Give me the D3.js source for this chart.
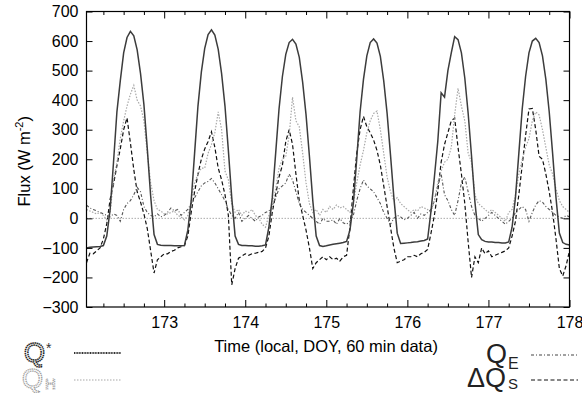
<!DOCTYPE html>
<html>
<head>
<meta charset="utf-8">
<script src="https://cdn.jsdelivr.net/npm/d3@7"></script>
<style>
  body { margin: 0; background: #fff; }
  svg { display: block; font-family: "Liberation Sans", Arial, sans-serif; }
</style>
</head>
<body>
<svg id="chart" width="582" height="393"></svg>
<script>
// hourly fluxes (W m-2), one row per day 172..177, hour 1..24
const qStar = [
  -100, -98, -97, -96, -95, -92, -60, 30, 190, 360, 465, 560, 612, 633, 618, 570, 490, 385, 235, 75, -55, -88, -91, -92,
  -92, -92, -93, -93, -93, -92, -40, 60, 220, 380, 495, 575, 622, 638, 620, 572, 490, 380, 230, 70, -60, -88, -92, -92,
  -93, -93, -94, -94, -93, -90, -30, 70, 220, 370, 480, 555, 595, 606, 590, 545, 460, 350, 210, 60, -60, -92, -95, -93,
  -90, -88, -86, -84, -82, -78, -40, 50, 200, 360, 470, 550, 595, 607, 593, 548, 465, 355, 215, 70, -50, -85, -84, -83,
  -82, -80, -79, -77, -75, -70, 25, 140, 260, 425, 410, 500, 560, 615, 605, 560, 475, 355, 210, 55, -55, -72, -78, -80,
  -80, -82, -82, -83, -83, -80, -30, 70, 220, 370, 480, 560, 600, 609, 595, 550, 470, 360, 220, 70, -50, -82, -88, -90
]
const qH = [
  30, 25, 20, 15, 20, 10, -5, 20, 130, 190, 270, 330, 380, 420, 450, 400, 380, 330, 220, 120, 60, 30, 25, 15,
  15, 20, 25, 10, 5, -5, 10, 60, 120, 150, 170, 170, 220, 250, 290, 360, 300, 160, 130, 50, 20, 30, 10, 25,
  20, 30, 10, 0, -20, -30, 10, 40, 100, 170, 200, 210, 280, 410, 330, 310, 220, 120, 50, 20, 30, 10, 30, 20,
  40, 30, 45, 35, 40, 30, 20, 50, 120, 180, 230, 290, 330, 355, 363, 300, 220, 140, 90, 60, 70, 50, 40, 30,
  20, 30, 25, 40, 35, 30, 20, 60, 120, 160, 190, 200, 240, 350, 440, 380, 330, 220, 190, 80, 50, 40, 30, 20,
  30, 20, 10, 0, -10, 20, 30, 80, 150, 200, 240, 270, 330, 360, 350, 300, 240, 180, 150, 100, 60, 40, 30, 20
]
const qE = [
  45, 35, 30, 25, 20, 15, 10, 5, 15, 10, -10, 30, 50, 60, 80, 105, 90, 40, 20, 10, 5, 15, 5, 10,
  20, 35, 25, 30, 10, 20, 30, 50, 70, 90, 110, 120, 125, 135, 120, 100, 80, 60, 30, 10, 0, 20, -10, 0,
  10, 0, -10, 5, 10, 20, 25, 40, 70, 100, 110, 120, 150, 130, 90, 50, 30, 20, 10, 0, -10, -20, 0, -10,
  -10, -5, -20, 0, -15, -20, -10, 10, 60, 100, 130, 110, 100, 90, 70, 50, 20, 0, -20, 0, 10, 5, -5, 0,
  10, 20, 0, 15, 10, 20, 30, 60, 110, 150, 80, 60, 30, 10, 60, 120, 140, 90, 40, 10, 0, -10, 0, 10,
  20, 10, 0, -10, -20, -10, 0, 20, 30, 40, 30, -10, 20, 45, 60, 55, 40, 30, 20, 10, 5, 0, 10, 5
]
const dQS = [
  -150, -118, -120, -110, -100, -70, -18, 65, 115, 178, 235, 300, 340, 255, 165, 90, 55, 15, -35, -110, -185, -140, -130, -120,
  -120, -112, -108, -100, -96, -92, -60, 20, 90, 150, 200, 235, 260, 293, 240, 170, 130, 80, 10, -225, -170, -135, -128, -120,
  -125, -120, -118, -115, -112, -100, -60, 20, 80, 140, 180, 260, 300, 250, 150, 60, 10, -40, -100, -170, -150, -140, -130, -140,
  -130, -140, -135, -145, -130, -125, -30, 100, 220, 300, 345, 310, 290, 265, 230, 180, 110, 40, -30, -100, -150, -145, -140, -130,
  -130, -125, -130, -120, -115, -105, -50, 10, 90, 190, 250, 290, 330, 339, 240, 150, 50, -80, -200, -130, -150, -100, -120, -110,
  -130, -125, -120, -115, -110, -100, -60, -10, 80, 180, 280, 370, 372, 300, 210, 200, 150, 90, 20, -70, -170, -195, -160, -110
]
const startDay = 172
const xTicks = [173, 174, 175, 176, 177, 178]
const yTicks = [-300, -200, -100, 0, 100, 200, 300, 400, 500, 600, 700]

const time = qStar.map((_, i) => startDay + (i + 1) / 24)

const series = [
  { key: 'qStar', values: qStar, stroke: '#3c3c3c', width: 1.5, dash: null },
  { key: 'qH', values: qH, stroke: '#a8a8a8', width: 1.2, dash: '1.5,1.5' },
  { key: 'qE', values: qE, stroke: '#555', width: 1.1, dash: '3,2,1,2' },
  { key: 'dQS', values: dQS, stroke: '#111', width: 1.2, dash: '4,2.5' }
]

const svg = d3.select('#chart')
const pl = 86.5, pr = 569.5, pt = 11.5, pb = 307

const x = d3.scaleLinear().domain([time[0], 178]).range([pl, pr])
const y = d3.scaleLinear().domain([-300, 700]).range([pb, pt])

// zero line
svg.append('line')
  .attr('x1', pl).attr('x2', pr)
  .attr('y1', y(0)).attr('y2', y(0))
  .attr('stroke', '#aaa').attr('stroke-width', 1).attr('stroke-dasharray', '1.5,1.5')

const line = d3.line().x((d, i) => x(time[i])).y(d => y(d))

svg.append('g')
  .selectAll('path')
  .data(series.slice().reverse())
  .join('path')
  .attr('d', d => line(d.values))
  .attr('fill', 'none')
  .attr('stroke', d => d.stroke)
  .attr('stroke-width', d => d.width)
  .attr('stroke-dasharray', d => d.dash)

// axes with inward ticks
const minor = d3.range(172.25, 178, 0.25).filter(v => v > time[0] && Math.abs(v - Math.round(v)) > 0.01)

const styleAxis = g => {
  g.select('.domain').remove()
  g.selectAll('line').attr('stroke', '#000')
  g.selectAll('text').attr('font-size', 16).attr('fill', '#000')
}

svg.append('g')
  .attr('transform', `translate(0,${pb})`)
  .call(d3.axisBottom(x).tickValues(xTicks).tickFormat(d3.format('d')).tickSize(-7).tickPadding(10))
  .call(styleAxis)

svg.append('g')
  .attr('transform', `translate(0,${pb})`)
  .call(d3.axisBottom(x).tickValues(minor).tickFormat('').tickSize(-3.5))
  .call(styleAxis)

svg.append('g')
  .attr('transform', `translate(0,${pt})`)
  .call(d3.axisTop(x).tickValues(xTicks).tickFormat('').tickSize(-7))
  .call(styleAxis)

svg.append('g')
  .attr('transform', `translate(0,${pt})`)
  .call(d3.axisTop(x).tickValues(minor).tickFormat('').tickSize(-3.5))
  .call(styleAxis)

svg.append('g')
  .attr('transform', `translate(${pl},0)`)
  .call(d3.axisLeft(y).tickValues(yTicks).tickSize(-6).tickPadding(8))
  .call(styleAxis)

svg.append('g')
  .attr('transform', `translate(${pr},0)`)
  .call(d3.axisRight(y).tickValues(yTicks).tickFormat('').tickSize(-6))
  .call(styleAxis)

svg.append('rect')
  .attr('x', pl).attr('y', pt)
  .attr('width', pr - pl).attr('height', pb - pt)
  .attr('fill', 'none').attr('stroke', '#000').attr('stroke-width', 1.2)

// axis titles
const yt = svg.append('text')
  .attr('transform', `translate(30,${(pt + pb) / 2 + 2}) rotate(-90)`)
  .attr('text-anchor', 'middle').attr('font-size', 16.5)
yt.append('tspan').text('Flux (W m')
yt.append('tspan').attr('font-size', 11).attr('dy', -7).text('-2')
yt.append('tspan').attr('dy', 7).text(')')

svg.append('text')
  .attr('x', 326).attr('y', 352)
  .attr('text-anchor', 'middle').attr('font-size', 16.5)
  .text('Time (local, DOY, 60 min data)')

// legend
const legend = svg.append('g')

legend.append('text').attr('x', 24).attr('y', 362).attr('font-size', 27)
  .attr('fill', '#fff').attr('stroke', '#222').attr('stroke-width', 1.5).attr('stroke-dasharray', '1.5,0.6')
  .text('Q')
legend.append('text').attr('x', 46).attr('y', 353).attr('font-size', 14)
  .attr('fill', '#333').text('*')
legend.append('line').attr('x1', 74).attr('x2', 121).attr('y1', 353).attr('y2', 353)
  .attr('stroke', '#333').attr('stroke-width', 2).attr('stroke-dasharray', '1,0.6')

legend.append('text').attr('x', 22).attr('y', 388).attr('font-size', 27)
  .attr('fill', '#fff').attr('stroke', '#999').attr('stroke-width', 1.3).attr('stroke-dasharray', '1.2,0.8')
  .text('Q')
legend.append('text').attr('x', 45).attr('y', 389).attr('font-size', 15)
  .attr('fill', '#fff').attr('stroke', '#999').attr('stroke-width', 1.1).attr('stroke-dasharray', '1,0.8')
  .text('H')
legend.append('line').attr('x1', 74).attr('x2', 121).attr('y1', 380).attr('y2', 380)
  .attr('stroke', '#a8a8a8').attr('stroke-width', 1.2).attr('stroke-dasharray', '1.5,1.5')

legend.append('text').attr('x', 486).attr('y', 363).attr('font-size', 27)
  .attr('fill', '#222').text('Q')
legend.append('text').attr('x', 508).attr('y', 369).attr('font-size', 16)
  .attr('fill', '#222').text('E')
legend.append('line').attr('x1', 531).attr('x2', 578).attr('y1', 355).attr('y2', 355)
  .attr('stroke', '#444').attr('stroke-width', 1.1).attr('stroke-dasharray', '3,2,1,2')

legend.append('text').attr('x', 467).attr('y', 387).attr('font-size', 27)
  .attr('fill', '#222').text('ΔQ')
legend.append('text').attr('x', 508).attr('y', 389).attr('font-size', 15)
  .attr('fill', '#222').text('S')
legend.append('line').attr('x1', 531).attr('x2', 578).attr('y1', 380).attr('y2', 380)
  .attr('stroke', '#111').attr('stroke-width', 1.2).attr('stroke-dasharray', '4,2.5')
</script>
</body>
</html>
